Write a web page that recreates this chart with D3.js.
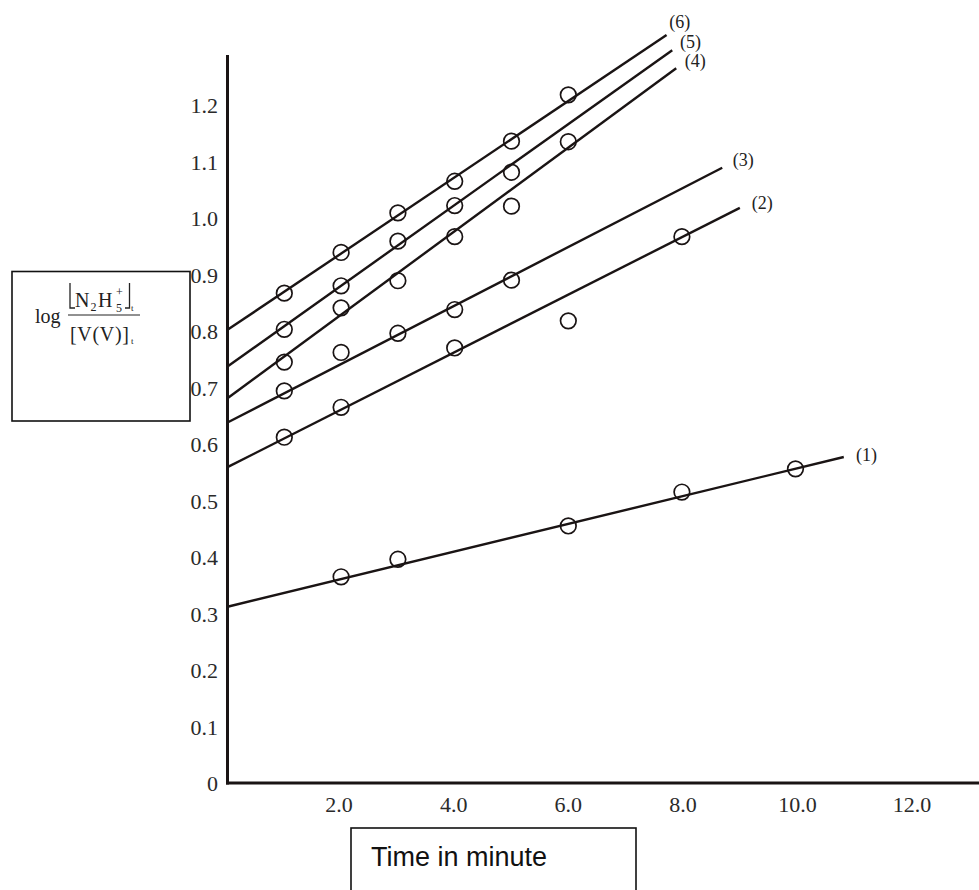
<!DOCTYPE html>
<html>
<head>
<meta charset="utf-8">
<script src="https://cdn.jsdelivr.net/npm/d3@7"></script>
<style>
  html, body { margin: 0; padding: 0; background: #fff; }
  svg { display: block; }
</style>
</head>
<body>
<svg id="chart" width="979" height="890"></svg>
<script>
// ---- data ----
const xTicks = [2, 4, 6, 8, 10, 12];
const xTickLabels = ["2.0", "4.0", "6.0", "8.0", "10.0", "12.0"];
const yTicks = [0, 0.1, 0.2, 0.3, 0.4, 0.5, 0.6, 0.7, 0.8, 0.9, 1.0, 1.1, 1.2];
const yTickLabels = ["0", "0.1", "0.2", "0.3", "0.4", "0.5", "0.6", "0.7", "0.8", "0.9", "1.0", "1.1", "1.2"];

const seriesNames = ["(1)", "(2)", "(3)", "(4)", "(5)", "(6)"];
const s1Time = [2, 3, 6, 8, 10];
const s1Value = [0.365, 0.396, 0.455, 0.515, 0.556];
const s2Time = [1, 2, 4, 6, 8];
const s2Value = [0.612, 0.665, 0.770, 0.818, 0.967];
const s3Time = [1, 2, 3, 4, 5];
const s3Value = [0.694, 0.762, 0.796, 0.838, 0.890];
const s4Time = [1, 2, 3, 4, 5, 6];
const s4Value = [0.745, 0.841, 0.889, 0.967, 1.021, 1.135];
const s5Time = [1, 2, 3, 4, 5];
const s5Value = [0.803, 0.880, 0.959, 1.022, 1.081];
const s6Time = [1, 2, 3, 4, 5, 6];
const s6Value = [0.867, 0.939, 1.009, 1.065, 1.136, 1.218];

// fitted straight lines: value at t=0 and end point
const fitStart = [0.312, 0.559, 0.638, 0.681, 0.737, 0.802];
const fitEndTime = [10.85, 9.02, 8.71, 7.90, 7.83, 7.73];
const fitEndValue = [0.577, 1.018, 1.089, 1.265, 1.297, 1.324];

const xTitle = "Time in minute";

// ---- build ----
const svg = d3.select("#chart");
const x = d3.scaleLinear().domain([0, 12]).range([227.5, 909.1]);
const y = d3.scaleLinear().domain([0, 1.2]).range([783, 105]);
const xMax = x.invert(979);
const yMax = y.invert(55);
const serif = "'Liberation Serif', 'Times New Roman', serif";
const ink = "#1a1414";

const times = [s1Time, s2Time, s3Time, s4Time, s5Time, s6Time];
const values = [s1Value, s2Value, s3Value, s4Value, s5Value, s6Value];

// fit lines
const lineGen = d3.line().x(d => x(d[0])).y(d => y(d[1]));
seriesNames.forEach((name, i) => {
  svg.append("path")
    .attr("d", lineGen([[0, fitStart[i]], [fitEndTime[i], fitEndValue[i]]]))
    .attr("fill", "none")
    .attr("stroke", ink)
    .attr("stroke-width", 2.4);
});

// points
seriesNames.forEach((name, i) => {
  svg.append("g").selectAll("circle")
    .data(times[i].map((t, k) => [t, values[i][k]]))
    .join("circle")
    .attr("cx", d => x(d[0]))
    .attr("cy", d => y(d[1]))
    .attr("r", 7.8)
    .attr("fill", "none")
    .attr("stroke", ink)
    .attr("stroke-width", 1.7);
});

// series labels (centre offsets from line end)
const labelDx = [22.7, 22.4, 21, 19, 18.3, 13.3];
const labelDy = [-1.3, -4.4, -7, -6.8, -7.2, -12.6];
seriesNames.forEach((name, i) => {
  svg.append("text")
    .attr("x", x(fitEndTime[i]) + labelDx[i])
    .attr("y", y(fitEndValue[i]) + labelDy[i] + 5.5)
    .attr("text-anchor", "middle")
    .attr("font-family", serif)
    .attr("font-size", 18)
    .attr("fill", "#222")
    .text(name);
});

// axes lines
svg.append("line")
  .attr("x1", x(0)).attr("x2", x(0))
  .attr("y1", y(yMax)).attr("y2", y(0) + 1.5)
  .attr("stroke", ink).attr("stroke-width", 3);
svg.append("line")
  .attr("x1", x(0) - 1.5).attr("x2", x(xMax))
  .attr("y1", y(0)).attr("y2", y(0))
  .attr("stroke", ink).attr("stroke-width", 3.2);

// y tick labels
svg.append("g").selectAll("text")
  .data(yTicks)
  .join("text")
  .attr("x", 218)
  .attr("y", d => y(d) + 8)
  .attr("text-anchor", "end")
  .attr("font-family", serif)
  .attr("font-size", 22)
  .attr("fill", "#2a2a2a")
  .text((d, i) => yTickLabels[i]);

// x tick labels
svg.append("g").selectAll("text")
  .data(xTicks)
  .join("text")
  .attr("x", d => x(d) + (d - 6) * 0.5)
  .attr("y", 812)
  .attr("text-anchor", "middle")
  .attr("font-family", serif)
  .attr("font-size", 22)
  .attr("fill", "#2a2a2a")
  .text((d, i) => xTickLabels[i]);

// y-axis title box
svg.append("rect")
  .attr("x", 12).attr("y", 271.5)
  .attr("width", 178).attr("height", 149.5)
  .attr("fill", "#fff").attr("stroke", "#111").attr("stroke-width", 1.6);

const yt = svg.append("g").attr("font-family", serif).attr("fill", "#222");
yt.append("text").attr("x", 35).attr("y", 323).attr("font-size", 20).text("log");
// numerator: floor brackets drawn as strokes, chemical formula as text
yt.append("path").attr("d", "M70,283 L70,308 L75,308")
  .attr("fill", "none").attr("stroke", "#222").attr("stroke-width", 1.3);
yt.append("path").attr("d", "M129.5,283 L129.5,308 L125,308")
  .attr("fill", "none").attr("stroke", "#222").attr("stroke-width", 1.3);
yt.append("text").attr("x", 75).attr("y", 307).attr("font-size", 20).text("N");
yt.append("text").attr("x", 90.5).attr("y", 311).attr("font-size", 12).text("2");
yt.append("text").attr("x", 98).attr("y", 307).attr("font-size", 20).text("H");
yt.append("text").attr("x", 116).attr("y", 312).attr("font-size", 12).text("5");
yt.append("text").attr("x", 116).attr("y", 296).attr("font-size", 12).text("+");
yt.append("text").attr("x", 131).attr("y", 311).attr("font-size", 9).text("t");
// fraction bar
yt.append("line").attr("x1", 68).attr("x2", 140).attr("y1", 315).attr("y2", 315)
  .attr("stroke", "#222").attr("stroke-width", 1);
// denominator
yt.append("text").attr("x", 70).attr("y", 341).attr("font-size", 20)
  .attr("textLength", 59).attr("lengthAdjust", "spacing").text("[V(V)]");
yt.append("text").attr("x", 131).attr("y", 344).attr("font-size", 9).text("t");

// x-axis title box
svg.append("rect")
  .attr("x", 351).attr("y", 828)
  .attr("width", 285).attr("height", 80)
  .attr("fill", "#fff").attr("stroke", "#111").attr("stroke-width", 1.6);
svg.append("text")
  .attr("x", 371).attr("y", 866)
  .attr("font-family", "'Liberation Sans', Arial, sans-serif")
  .attr("font-size", 27)
  .attr("fill", "#111")
  .text(xTitle);
</script>
</body>
</html>
